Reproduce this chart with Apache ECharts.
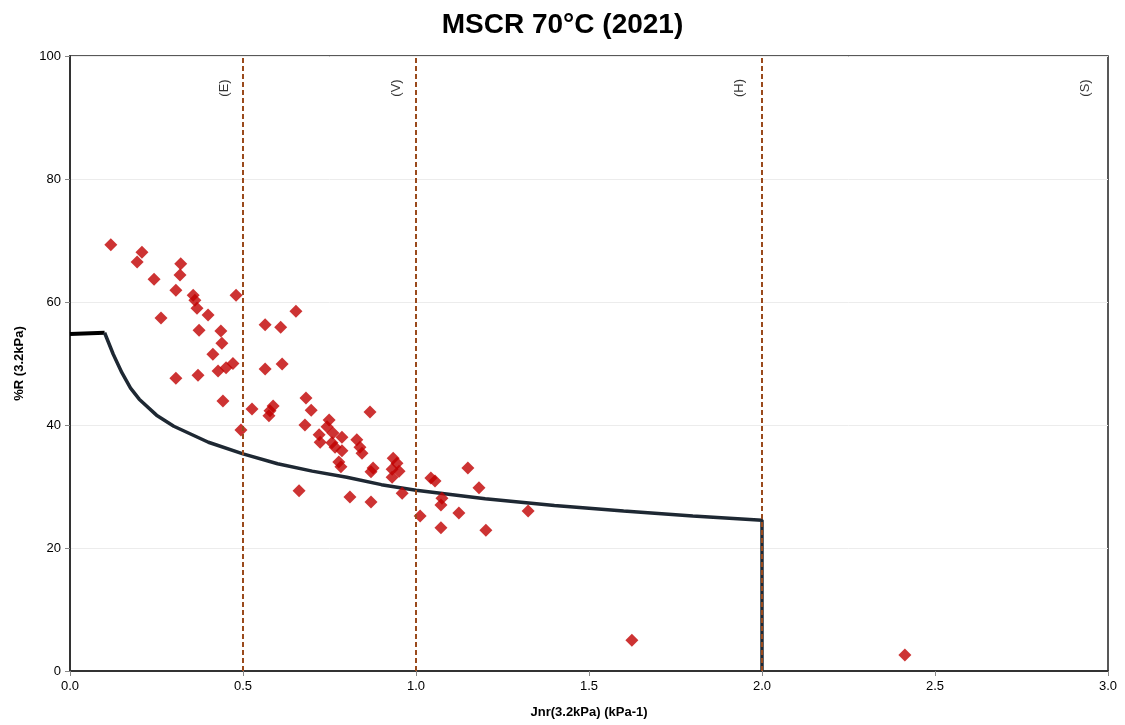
<!DOCTYPE html>
<html><head><meta charset="utf-8">
<script src="https://cdn.jsdelivr.net/npm/echarts@6/dist/echarts.min.js"></script>
<style>html,body{margin:0;padding:0;background:#fff}#c{width:1125px;height:725px}</style>
</head><body><div id="c"></div>
<script>
// Sample points: Jnr (kPa-1), %R
const jnr = [0.118,0.208,0.194,0.320,0.318,0.243,0.306,0.356,0.361,0.367,0.480,0.399,0.263,0.373,0.436,0.439,0.413,0.428,0.451,0.471,0.306,0.370,0.442,0.494,
  0.526,0.587,0.578,0.575,0.653,0.564,0.609,0.564,0.613,0.682,0.697,0.867,0.679,0.749,0.743,0.720,0.723,0.760,0.786,0.757,0.766,0.786,0.829,0.838,0.844,
  0.777,0.783,0.876,0.870,0.934,0.945,0.931,0.951,0.931,0.662,0.809,0.870,0.960,1.043,1.055,1.012,1.150,1.182,1.075,1.072,1.124,1.072,1.202,1.324,1.624,2.413];
const pctR = [69.3,68.1,66.5,66.2,64.4,63.7,61.9,61.1,60.3,59.0,61.1,57.9,57.4,55.4,55.3,53.3,51.5,48.8,49.3,50.0,47.6,48.1,43.9,39.2,
  42.6,43.1,42.3,41.5,58.5,56.3,55.9,49.1,49.9,44.4,42.4,42.1,40.0,40.8,39.7,38.4,37.2,38.7,38.0,37.1,36.4,35.8,37.6,36.4,35.4,
  34.0,33.2,33.0,32.4,34.6,33.8,32.8,32.5,31.5,29.3,28.3,27.5,28.9,31.4,30.9,25.2,33.0,29.8,28.1,27.0,25.7,23.3,22.9,26.0,5.0,2.6];
// Specification curve
const flatX = [0,0.1];
const flatY = [54.8,55.0];
const curveX = [0.1,0.125,0.15,0.175,0.2,0.25,0.3,0.4,0.5,0.6,0.7,0.8,0.9,1.0,1.2,1.4,1.6,1.8,2.0,2.0];
const curveY = [55.0,51.5,48.5,46.0,44.2,41.6,39.8,37.2,35.3,33.7,32.5,31.5,30.3,29.4,28.0,26.9,26.0,25.2,24.5,0];
// Boundaries and zone labels
const boundaries = [0.5,1.0,2.0];
const zoneLabels = ['(E)','(V)','(H)','(S)'];
const zoneX = [0.445,0.942,1.934,2.934];
const zoneY = [94.8,94.8,94.8,94.8];

const font = 'Liberation Sans, Arial, sans-serif';
const chart = echarts.init(document.getElementById('c'));
chart.setOption({
  animation:false,
  title:{text:'MSCR 70°C (2021)',left:'center',top:6,textStyle:{fontFamily:font,fontSize:28,fontWeight:'bold',color:'#000'}},
  grid:{left:70,right:17,top:56,bottom:54,show:true,borderColor:'#222',borderWidth:1.5,backgroundColor:'#fff'},
  xAxis:{type:'value',min:0,max:3,interval:0.5,
    name:'Jnr(3.2kPa) (kPa-1)',nameLocation:'middle',nameGap:35,
    nameTextStyle:{fontFamily:font,fontSize:13,fontWeight:'bold',color:'#000'},
    axisLine:{show:true,lineStyle:{color:'#333',width:2}},
    axisTick:{show:true,length:5,lineStyle:{color:'#888'}},
    axisLabel:{fontFamily:font,fontSize:13,color:'#000',margin:9,formatter:v=>v.toFixed(1)},
    splitLine:{show:false}},
  yAxis:{type:'value',min:0,max:100,interval:20,
    name:'%R (3.2kPa)',nameLocation:'middle',nameGap:44,
    nameTextStyle:{fontFamily:font,fontSize:13,fontWeight:'bold',color:'#000'},
    axisLine:{show:true,lineStyle:{color:'#333',width:2}},
    axisTick:{show:true,length:5,lineStyle:{color:'#888'}},
    axisLabel:{fontFamily:font,fontSize:13,color:'#000',margin:9},
    splitLine:{show:true,lineStyle:{color:'#ececec',width:1}}},
  series:[
    {type:'line',data:flatX.map((x,i)=>[x,flatY[i]]),symbol:'none',
     lineStyle:{color:'#000',width:4},z:3},
    {type:'line',data:curveX.map((x,i)=>[x,curveY[i]]),symbol:'none',smooth:false,
     lineStyle:{color:'#1e2833',width:3.5},z:3,
     markLine:{silent:true,symbol:'none',label:{show:false},
       lineStyle:{color:'#9a4a1c',type:[5,3],width:2},
       data:boundaries.map(b=>({xAxis:b}))}},
    {type:'scatter',data:jnr.map((x,i)=>[x,pctR[i]]),symbol:'diamond',symbolSize:13,
     itemStyle:{color:'#c00000'},z:4},
    {type:'scatter',data:zoneX.map((x,i)=>({value:[x,zoneY[i]],name:zoneLabels[i]})),symbolSize:0,
     label:{show:true,formatter:p=>p.name,rotate:90,position:'inside',fontFamily:font,fontSize:13,color:'#000'},z:5}
  ]
});
</script></body></html>
